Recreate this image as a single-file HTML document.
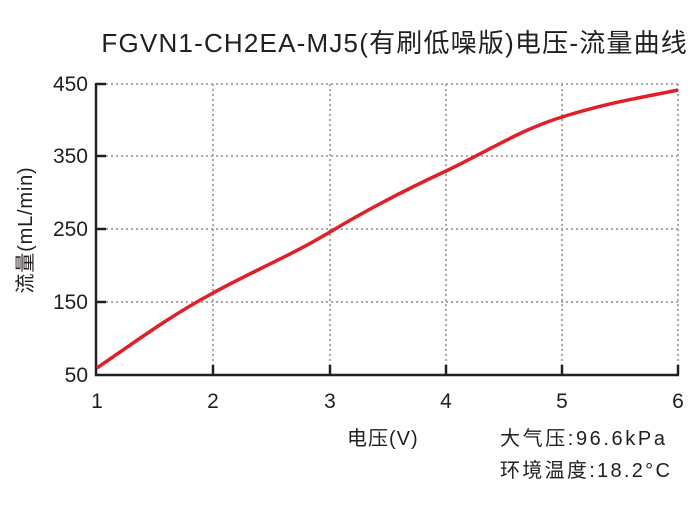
<!DOCTYPE html>
<html><head><meta charset="utf-8"><style>
body{margin:0;background:#fff;}
svg text{font-family:"Liberation Sans","Noto Sans CJK SC",sans-serif;fill:#231f20;}
</style></head><body>
<svg width="700" height="508" viewBox="0 0 700 508" xmlns="http://www.w3.org/2000/svg">
<text x="688" y="52" font-size="26" letter-spacing="1.2" text-anchor="end">FGVN1-CH2EA-MJ5(有刷低噪版)电压-流量曲线</text>
<g stroke="#a7a9ac" stroke-width="2" stroke-dasharray="2,3" fill="none">
<line x1="106" y1="84" x2="678" y2="84"/>
<line x1="106" y1="156" x2="678" y2="156"/>
<line x1="106" y1="229" x2="678" y2="229"/>
<line x1="106" y1="302" x2="678" y2="302"/>
<line x1="213" y1="84" x2="213" y2="365"/>
<line x1="330" y1="84" x2="330" y2="365"/>
<line x1="446" y1="84" x2="446" y2="365"/>
<line x1="562" y1="84" x2="562" y2="365"/>
<line x1="678" y1="84" x2="678" y2="365"/>
</g>
<g stroke="#231f20" stroke-width="2.5" fill="none">
<polyline points="96,83 96,375 679,375"/>
<line x1="96" y1="84" x2="106" y2="84"/>
<line x1="96" y1="156" x2="106" y2="156"/>
<line x1="96" y1="229" x2="106" y2="229"/>
<line x1="96" y1="302" x2="106" y2="302"/>
<line x1="213" y1="375" x2="213" y2="365"/>
<line x1="330" y1="375" x2="330" y2="365"/>
<line x1="446" y1="375" x2="446" y2="365"/>
<line x1="562" y1="375" x2="562" y2="365"/>
<line x1="678" y1="375" x2="678" y2="365"/>
</g>
<path d="M97,368 C135,342 170,316 213,293 C255,270 290,256 330,232 C370,208 405,190 446,171 C490,150 520,130 562,117 C610,102 640,98 678,90" stroke="#e41e26" stroke-width="3.5" fill="none"/>
<g font-size="21" text-anchor="end">
<text x="88" y="91">450</text>
<text x="88" y="163">350</text>
<text x="88" y="236">250</text>
<text x="88" y="309">150</text>
<text x="88" y="382">50</text>
</g>
<g font-size="21" text-anchor="middle">
<text x="97" y="408">1</text>
<text x="213" y="408">2</text>
<text x="330" y="408">3</text>
<text x="446" y="408">4</text>
<text x="562" y="408">5</text>
<text x="678" y="408">6</text>
</g>
<text x="347" y="445" font-size="20" letter-spacing="1">电压(V)</text>
<text x="500" y="445" font-size="20" letter-spacing="2.6">大气压:96.6kPa</text>
<text x="500" y="477" font-size="20" letter-spacing="2.3">环境温度:18.2°C</text>
<text transform="translate(32,230) rotate(-90)" font-size="20" letter-spacing="0.8" text-anchor="middle">流量(mL/min)</text>
</svg>
</body></html>
